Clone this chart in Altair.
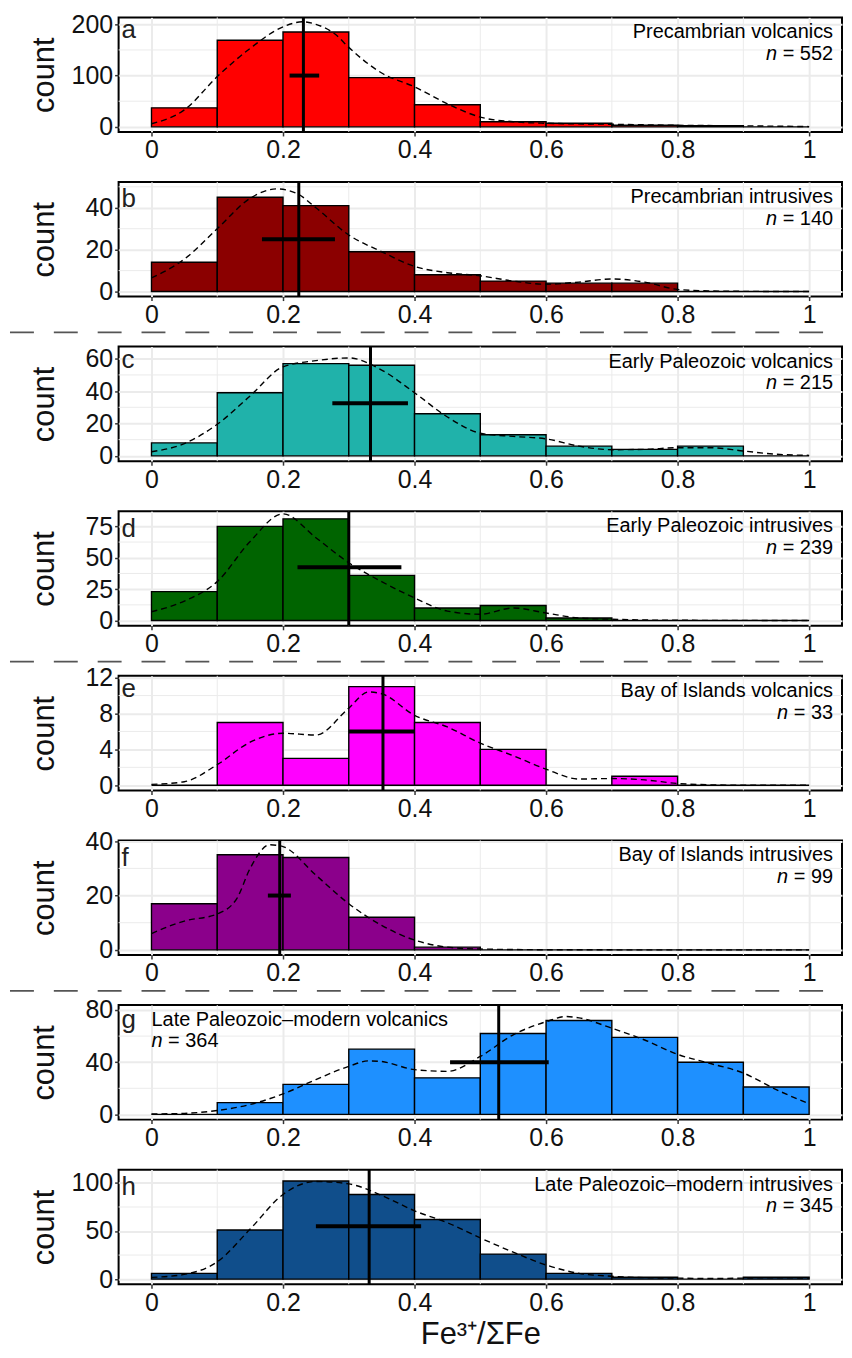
import altair as alt
import pandas as pd

# ---------------- data ----------------
EDGES = [0.0, 0.1, 0.2, 0.3, 0.4, 0.5, 0.6, 0.7, 0.8, 0.9, 1.0]
X_MAJOR = [0, 0.2, 0.4, 0.6, 0.8, 1]
X_MINOR = [0.1, 0.3, 0.5, 0.7, 0.9]

LETTERS = ["a", "b", "c", "d", "e", "f", "g", "h"]
NAMES = ["Precambrian volcanics", "Precambrian intrusives",
         "Early Paleozoic volcanics", "Early Paleozoic intrusives",
         "Bay of Islands volcanics", "Bay of Islands intrusives",
         "Late Paleozoic–modern volcanics", "Late Paleozoic–modern intrusives"]
N_VALUES = [552, 140, 215, 239, 33, 99, 364, 345]
COLORS = ["#FF0000", "#8B0000", "#20B2AA", "#006400",
          "#FF00FF", "#8B008B", "#1E90FF", "#104E8B"]

COUNTS_A = [37, 169, 185, 96, 43, 10, 7, 3, 2, 0]
COUNTS_B = [14, 45, 41, 19, 8, 5, 4, 4, 0, 0]
COUNTS_C = [8, 39, 57, 56, 26, 13, 6, 4, 6, 0]
COUNTS_D = [23, 75, 81, 36, 10, 12, 2, 0, 0, 0]
COUNTS_E = [0, 7, 3, 11, 7, 4, 0, 1, 0, 0]
COUNTS_F = [17, 35, 34, 12, 1, 0, 0, 0, 0, 0]
COUNTS_G = [0, 9, 23, 50, 28, 62, 72, 59, 40, 21]
COUNTS_H = [6, 51, 102, 88, 62, 26, 6, 2, 0, 2]

DENS_X_A = [0, 0.05, 0.1, 0.15, 0.2, 0.23, 0.25, 0.28, 0.3, 0.35, 0.4, 0.45, 0.5, 0.55, 0.6, 0.7, 0.8, 0.9, 1.0]
DENS_Y_A = [6, 33, 98, 153, 195, 205, 200, 180, 155, 105, 78, 45, 19, 10, 7, 5, 3, 2, 0.5]
DENS_X_B = [0, 0.05, 0.1, 0.15, 0.19, 0.22, 0.25, 0.3, 0.35, 0.4, 0.45, 0.5, 0.55, 0.6, 0.65, 0.7, 0.75, 0.8, 0.85, 0.9, 1.0]
DENS_Y_B = [6.5, 15.5, 30, 44.5, 49, 47, 40, 27, 19, 12, 9, 7.5, 5, 3.5, 4.5, 6, 4.5, 1, 0.3, 0.1, 0]
DENS_X_C = [0, 0.05, 0.1, 0.15, 0.2, 0.25, 0.3, 0.35, 0.4, 0.45, 0.5, 0.55, 0.6, 0.65, 0.7, 0.75, 0.8, 0.85, 0.9, 0.95, 1.0]
DENS_Y_C = [2.5, 7.6, 19.5, 37, 55, 58.8, 60.5, 53, 39, 24, 14, 12, 10.5, 6, 3.8, 4, 5, 5, 3, 1, 0.3]
DENS_X_D = [0, 0.05, 0.1, 0.15, 0.2, 0.25, 0.3, 0.35, 0.4, 0.45, 0.5, 0.55, 0.6, 0.65, 0.7, 0.8, 0.9, 1.0]
DENS_Y_D = [7, 15.5, 31, 63, 85, 66, 46, 31, 18, 7.5, 5, 10, 6, 2, 1, 0.2, 0.1, 0]
DENS_X_E = [0, 0.05, 0.1, 0.15, 0.2, 0.25, 0.3, 0.33, 0.35, 0.4, 0.45, 0.5, 0.55, 0.6, 0.65, 0.7, 0.75, 0.8, 0.85, 0.9, 1.0]
DENS_Y_E = [0.1, 0.4, 2.3, 4.8, 5.8, 5.6, 8.6, 10.4, 10.2, 7.8, 6.5, 4.7, 3.3, 1.8, 0.7, 0.75, 0.6, 0.2, 0.05, 0, 0]
DENS_X_F = [0, 0.03, 0.05, 0.1, 0.13, 0.15, 0.18, 0.2, 0.25, 0.3, 0.35, 0.4, 0.45, 0.5, 0.6, 0.8, 1.0]
DENS_Y_F = [6, 9, 10.6, 13.2, 19, 30, 38.7, 38, 27.5, 17, 9, 3.6, 1, 0.3, 0.05, 0, 0]
DENS_X_G = [0, 0.05, 0.1, 0.15, 0.2, 0.25, 0.3, 0.33, 0.35, 0.4, 0.45, 0.5, 0.55, 0.6, 0.63, 0.65, 0.7, 0.75, 0.8, 0.85, 0.9, 0.95, 1.0]
DENS_Y_G = [0.3, 0.8, 3, 7.6, 15.7, 26.7, 36.8, 41, 40.5, 34.3, 33, 44.4, 61, 71, 75, 74, 66, 57, 46, 39, 31.7, 19, 8.1]
DENS_X_H = [0, 0.05, 0.1, 0.15, 0.2, 0.25, 0.3, 0.35, 0.4, 0.45, 0.5, 0.55, 0.6, 0.65, 0.7, 0.75, 0.8, 0.85, 0.9, 0.95, 1.0]
DENS_Y_H = [1.8, 4.9, 18, 52, 88, 101.5, 99, 87, 71, 58.6, 42.8, 28, 14.7, 6, 3, 1.5, 1, 0.6, 1, 1.5, 1]

CENTERS = [0.231, 0.224, 0.333, 0.300, 0.352, 0.195, 0.528, 0.331]
ERR_LO = [0.210, 0.168, 0.275, 0.222, 0.300, 0.177, 0.454, 0.250]
ERR_HI = [0.255, 0.279, 0.390, 0.380, 0.400, 0.212, 0.604, 0.410]
ERR_Y = [100, 25, 32.5, 42.5, 6, 20, 40, 55]

Y_DOMAINS = [[-10, 213.5], [-2.4, 52.3], [-3.3, 67.5], [-4.2, 87.1],
             [-0.57, 12.2], [-1.9, 40.3], [-4, 83.8], [-5.3, 113.8]]
Y_MAJOR = [[0, 100, 200], [0, 20, 40], [0, 20, 40, 60], [0, 25, 50, 75],
           [0, 4, 8, 12], [0, 20, 40], [0, 40, 80], [0, 50, 100]]
Y_MINOR = [[50, 150], [10, 30, 50], [10, 30, 50], [12.5, 37.5, 62.5],
           [2, 6, 10], [10, 30], [20, 60], [25, 75]]

COUNTS = [COUNTS_A, COUNTS_B, COUNTS_C, COUNTS_D, COUNTS_E, COUNTS_F, COUNTS_G, COUNTS_H]
DENS_X = [DENS_X_A, DENS_X_B, DENS_X_C, DENS_X_D, DENS_X_E, DENS_X_F, DENS_X_G, DENS_X_H]
DENS_Y = [DENS_Y_A, DENS_Y_B, DENS_Y_C, DENS_Y_D, DENS_Y_E, DENS_Y_F, DENS_Y_G, DENS_Y_H]
LABEL_LEFT = [False, False, False, False, False, False, True, False]
SEPARATOR_AFTER = [False, True, False, True, False, True, False, False]

# ---------------- layout / style ----------------
W, H = 726, 115
FONT = "Liberation Sans"
ANN = 20          # annotation font size
GRID = "#EBEBEB"
ONE = pd.DataFrame({"k": [0]})
LABEL_EXPR = "'' + datum.value"


def text_width(s, size):
    w = {" ": 0.278, "=": 0.584}
    return sum(w.get(c, 0.556) for c in s) * size


def panel(i):
    xs = alt.Scale(domain=[-0.05, 1.05], nice=False, zero=False)
    ys = alt.Scale(domain=Y_DOMAINS[i], nice=False, zero=False)
    last = i == len(LETTERS) - 1

    xaxis = alt.Axis(values=X_MAJOR, labelExpr=LABEL_EXPR, grid=True,
                     title="Fe³⁺/ΣFe" if last else None)
    yaxis = alt.Axis(values=Y_MAJOR[i], labelExpr=LABEL_EXPR, grid=True, title="count",
                     titleX=-58, titleAngle=-90, titleBaseline="bottom")

    minor_x = alt.Chart(pd.DataFrame({"v": X_MINOR})).mark_rule(
        color=GRID, strokeWidth=1).encode(x=alt.X("v:Q", scale=xs, axis=xaxis))
    minor_y = alt.Chart(pd.DataFrame({"v": Y_MINOR[i]})).mark_rule(
        color=GRID, strokeWidth=1).encode(y=alt.Y("v:Q", scale=ys, axis=yaxis))

    bars_df = pd.DataFrame({"x0": EDGES[:-1], "x1": EDGES[1:], "count": COUNTS[i]})
    bars = alt.Chart(bars_df).mark_rect(
        fill=COLORS[i], stroke="black", strokeWidth=1.4).encode(
        x=alt.X("x0:Q", scale=xs, axis=xaxis),
        x2="x1:Q",
        y=alt.Y("count:Q", scale=ys, axis=yaxis),
        y2=alt.datum(0))

    dens = alt.Chart(pd.DataFrame({"x": DENS_X[i], "y": DENS_Y[i]})).mark_line(
        color="black", strokeWidth=1.4, strokeDash=[6, 4], interpolate="monotone").encode(
        x=alt.X("x:Q", scale=xs, axis=xaxis), y=alt.Y("y:Q", scale=ys, axis=yaxis))

    vline = alt.Chart(pd.DataFrame({"v": [CENTERS[i]]})).mark_rule(
        color="black", strokeWidth=3).encode(x=alt.X("v:Q", scale=xs, axis=xaxis))

    err = alt.Chart(pd.DataFrame({"lo": [ERR_LO[i]], "hi": [ERR_HI[i]], "y": [ERR_Y[i]]})).mark_rule(
        color="black", strokeWidth=4).encode(
        x=alt.X("lo:Q", scale=xs, axis=xaxis), x2="hi:Q",
        y=alt.Y("y:Q", scale=ys, axis=yaxis))

    letter = LETTERS[i]
    ly = 25.5 if letter in "bdfh" else (23.5 if letter == "g" else 21)
    let = alt.Chart(ONE).mark_text(
        text=letter, font=FONT, fontSize=26, color="#222222", align="left",
        baseline="alphabetic").encode(x=alt.value(3), y=alt.value(ly))

    if LABEL_LEFT[i]:
        x0 = 33
        name = alt.Chart(ONE).mark_text(
            text=NAMES[i], font=FONT, fontSize=ANN, color="black", align="left",
            baseline="alphabetic").encode(x=alt.value(x0), y=alt.value(21))
        nn = alt.Chart(ONE).mark_text(
            text="n", font=FONT, fontSize=ANN, fontStyle="italic", color="black",
            align="left", baseline="alphabetic").encode(x=alt.value(x0), y=alt.value(42))
        nv = alt.Chart(ONE).mark_text(
            text=f"= {N_VALUES[i]}", font=FONT, fontSize=ANN, color="black", align="left",
            baseline="alphabetic").encode(x=alt.value(x0 + text_width("n ", ANN)), y=alt.value(42))
    else:
        xr = W - 9
        ntxt = f"= {N_VALUES[i]}"
        name = alt.Chart(ONE).mark_text(
            text=NAMES[i], font=FONT, fontSize=ANN, color="black", align="right",
            baseline="alphabetic").encode(x=alt.value(xr), y=alt.value(21))
        nv = alt.Chart(ONE).mark_text(
            text=ntxt, font=FONT, fontSize=ANN, color="black", align="right",
            baseline="alphabetic").encode(x=alt.value(xr), y=alt.value(43))
        nn = alt.Chart(ONE).mark_text(
            text="n", font=FONT, fontSize=ANN, fontStyle="italic", color="black",
            align="right", baseline="alphabetic").encode(
            x=alt.value(xr - text_width(" " + ntxt, ANN)), y=alt.value(43))

    layers = [minor_x, minor_y, bars, dens, vline, err, let, name, nn, nv]
    if SEPARATOR_AFTER[i]:
        sep = alt.Chart(ONE).mark_rule(
            color="#555555", strokeWidth=1.8, strokeDash=[24, 20]).encode(
            x=alt.value(-109), x2=alt.value(W), y=alt.value(H + 36))
        layers.append(sep)
    return alt.layer(*layers).properties(width=W, height=H)


chart = alt.vconcat(*[panel(i) for i in range(len(LETTERS))], spacing=50.2, bounds="flush").properties(
    padding=0
).configure_view(
    stroke="black", strokeWidth=2
).configure_axis(
    domain=False, gridColor=GRID, gridWidth=2,
    labelFont=FONT, labelFontSize=25, labelColor="#111111", labelPadding=2,
    tickColor="#333333", tickSize=4, tickWidth=1.5,
    titleFont=FONT, titleFontSize=31, titleFontWeight="normal", titleColor="#111111",
).configure_axisX(titlePadding=4)

chart.save("out.html", embed_options={"renderer": "svg", "actions": False})
